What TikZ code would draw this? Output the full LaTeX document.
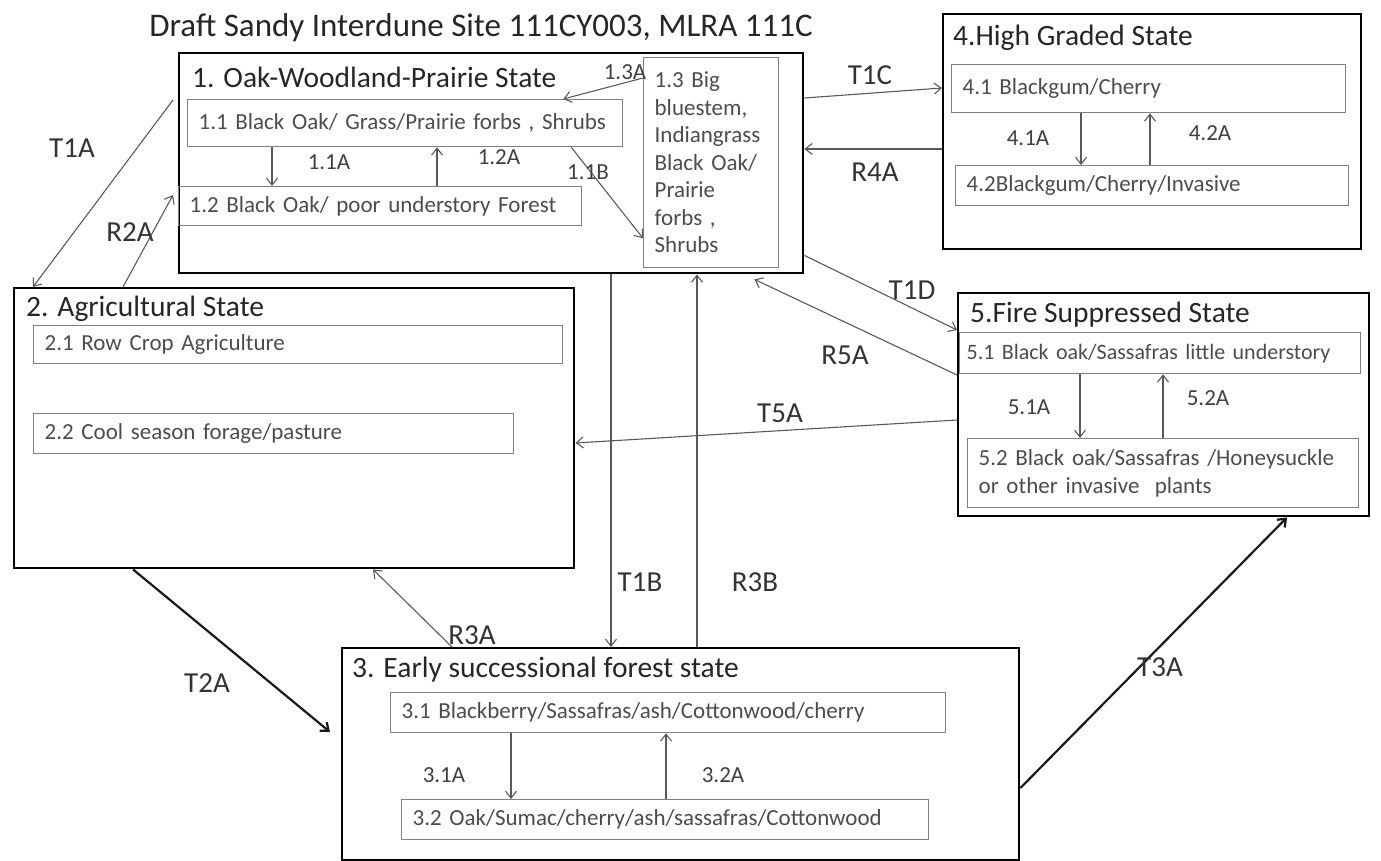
\documentclass[tikz,border=0pt]{standalone}
\usepackage{fontspec}
\setmainfont{Carlito}
\usetikzlibrary{arrows.meta,positioning}

\tikzset{
  statebox/.style={draw=black, line width=2.4pt, anchor=north west, inner sep=0pt},
  phasebox/.style={draw=black!50, line width=1.3pt, anchor=north west, inner xsep=11pt, inner ysep=0pt,
    align=left, text=black!70, font=\fontsize{23}{27.5}\selectfont},
  statetitle/.style={anchor=west, inner sep=0pt, text=black!85, font=\fontsize{29.5}{34}\selectfont},
  trans/.style={draw=black!65, line width=1.1pt, ->},
  bigtrans/.style={draw=black!90, line width=2.2pt, ->},
  tlabel/.style={inner sep=0pt, text=black!80, font=\fontsize{29}{32}\selectfont},
  plabel/.style={inner sep=0pt, text=black!75, font=\fontsize{23}{26}\selectfont},
}

\begin{document}
\begin{tikzpicture}[x=1pt, y=-1pt, >={Straight Barb[length=7pt,width=11pt]}]
    \useasboundingbox (0,0) rectangle (1381,861);
    \node[font=\fontsize{33}{38}\selectfont, text=black!85] (title) at (481,28) {Draft Sandy Interdune Site 111CY003, MLRA 111C};

    % State 1
    \node[statebox, minimum width=624pt, minimum height=220pt] (s1) at (178,52) {};
    \node[statetitle] (t1) at (192,77) {1. Oak-Woodland-Prairie State};
    \node[phasebox, text width=413pt, minimum height=47pt] (n11) at (187,99) {1.1 Black Oak/ Grass/Prairie forbs , Shrubs};
    \node[phasebox, text width=381pt, minimum height=39pt] (n12) at (178,186) {1.2 Black Oak/ poor understory Forest};
    \node[phasebox, text width=113pt, minimum height=210pt] (n13) at (643,57) {1.3 Big\\bluestem,\\Indiangrass\\Black Oak/\\Prairie\\forbs ,\\Shrubs};

    % State 4
    \node[statebox, minimum width=418pt, minimum height=235pt] (s4) at (942,13) {};
    \node[statetitle] (t4) at (953,38) {4.High Graded State};
    \node[phasebox, text width=372pt, minimum height=48pt] (n41) at (951,64) {4.1 Blackgum/Cherry};
    \node[phasebox, text width=371pt, minimum height=40pt] (n42) at (955,165) {4.2Blackgum/Cherry/Invasive};

    % State 2
    \node[statebox, minimum width=560pt, minimum height=280pt] (s2) at (13,287) {};
    \node[statetitle] (t2) at (26,309) {2. Agricultural State};
    \node[phasebox, text width=507pt, minimum height=38pt] (n21) at (33,325) {2.1 Row Crop Agriculture};
    \node[phasebox, text width=458pt, minimum height=40pt] (n22) at (33,413) {2.2 Cool season forage/pasture};

    % State 5
    \node[statebox, minimum width=411pt, minimum height=223pt] (s5) at (957,292) {};
    \node[statetitle] (t5) at (970,315) {5.Fire Suppressed State};
    \node[phasebox, inner xsep=7pt, text width=387pt, minimum height=41pt, font=\fontsize{22}{26}\selectfont] (n51) at (959,332) {\mbox{5.1 Black oak/Sassafras little understory}};
    \node[phasebox, text width=369pt, minimum height=69pt] (n52) at (967,438) {5.2 Black oak/Sassafras /Honeysuckle\\or other invasive\ \ plants};

    % State 3
    \node[statebox, minimum width=677pt, minimum height=212pt] (s3) at (341,647) {};
    \node[statetitle] (t3) at (352,670) {3. Early successional forest state};
    \node[phasebox, text width=533pt, minimum height=40pt] (n31) at (390,692) {3.1 Blackberry/Sassafras/ash/Cottonwood/cherry};
    \node[phasebox, text width=505pt, minimum height=40pt] (n32) at (401,799) {3.2 Oak/Sumac/cherry/ash/sassafras/Cottonwood};

    % Pathways inside the states
    \draw[trans] ([xshift=85pt]n11.south west) -- ([xshift=94pt]n12.north west);
    \draw[trans] ([xshift=259pt]n12.north west) -- ([xshift=250pt]n11.south west);
    \draw[trans] ([xshift=-52pt]n11.south east) -- ([yshift=30pt]n13.south west);
    \draw[trans] ([yshift=-21pt]n13.north west) -- ([xshift=-60pt]n11.north east);
    \draw[trans] ([xshift=130pt]n41.south west) -- ([xshift=126pt]n42.north west);
    \draw[trans] ([xshift=195pt]n42.north west) -- ([xshift=199pt]n41.south west);
    \draw[trans] ([xshift=121pt]n51.south west) -- ([xshift=113pt]n52.north west);
    \draw[trans] ([xshift=196pt]n52.north west) -- ([xshift=204pt]n51.south west);
    \draw[trans] ([xshift=121pt]n31.south west) -- ([xshift=110pt]n32.north west);
    \draw[trans] ([xshift=265pt]n32.north west) -- ([xshift=276pt]n31.south west);

    % Transitions and restorations
    \draw[trans] ([xshift=-5pt,yshift=-48pt]s1.north west) -- ([xshift=20pt]s2.north west);
    \draw[trans] ([xshift=110pt]s2.north west) -- ([xshift=-5pt,yshift=-143pt]s1.north west);
    \draw[trans] ([yshift=-46pt]s1.north east) -- ([yshift=-75pt]s4.north west);
    \draw[trans] ([yshift=-136pt]s4.north west) -- ([yshift=-97pt]s1.north east);
    \draw[trans] ([yshift=19pt]s1.south east) -- ([yshift=-38pt]s5.north west);
    \draw[trans] ([yshift=-83pt]s5.north west) -- ([xshift=-50pt,yshift=-5pt]s1.south east);
    \draw[trans] ([yshift=-128pt]s5.north west) -- ([yshift=-156pt]s2.north east);
    \draw[trans] ([xshift=433pt]s1.south west) -- ([xshift=270pt]s3.north west);
    \draw[trans] ([xshift=356pt]s3.north west) -- ([xshift=519pt]s1.south west);
    \draw[trans] ([xshift=111pt]s3.north west) -- ([xshift=360pt]s2.south west);
    \draw[bigtrans] ([xshift=120pt]s2.south west) -- ([xshift=-11pt,yshift=-85pt]s3.north west);
    \draw[bigtrans] ([yshift=-141pt]s3.north east) -- ([xshift=330pt]s5.south west);

    % Labels
    \foreach \txt/\x/\y in {T1A/72/148, R2A/130/232, T1C/870/75, R4A/875/172, T1D/912/290, R5A/845/355,
                            T5A/780/413, T1B/640/582, R3B/755/582, R3A/472/635, T2A/207/683, T3A/1160/667} {
        \node[tlabel] (lbl-\txt) at (\x,\y) {\txt};
    }
    \foreach \txt/\x/\y [count=\i] in {1.3A/625/72, 1.1A/329/162, 1.2A/499/157, 1.1B/588/172,
                            4.1A/1028/138, 4.2A/1210/133, 5.1A/1029/407, 5.2A/1208/398,
                            3.1A/444/775, 3.2A/723/775} {
        \node[plabel] (plbl-\i) at (\x,\y) {\txt};
    }
\end{tikzpicture}
\end{document}
